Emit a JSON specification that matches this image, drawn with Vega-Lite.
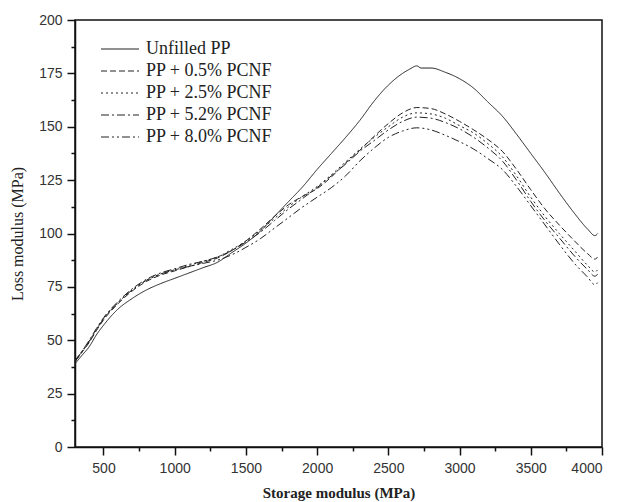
{
  "$schema": "https://vega.github.io/schema/vega-lite/v6.json",
  "width": 527,
  "height": 427,
  "autosize": {"type": "none"},
  "padding": {"left": 75, "top": 20, "right": 16, "bottom": 55},
  "config": {
    "font": "Liberation Sans",
    "view": {"stroke": "#111", "strokeWidth": 1.5},
    "axis": {
      "grid": false,
      "domainColor": "#111",
      "domainWidth": 1.5,
      "tickColor": "#111",
      "tickWidth": 1.5,
      "labelFont": "Liberation Sans",
      "labelFontSize": 14,
      "labelColor": "#333",
      "titleFont": "Liberation Serif",
      "titleFontSize": 16,
      "titleFontWeight": "normal",
      "titleColor": "#222"
    }
  },
  "data": {
    "values": [
      {"x": 300, "u": 39, "a": 40, "b": 40, "c": 40.5, "d": 40},
      {"x": 350, "u": 43, "a": 44.5, "b": 45, "c": 45, "d": 44.5},
      {"x": 400, "u": 47, "a": 49, "b": 49.5, "c": 50, "d": 49.5},
      {"x": 450, "u": 52.5, "a": 54.5, "b": 55, "c": 55.5, "d": 55},
      {"x": 500, "u": 57, "a": 59.5, "b": 60, "c": 60.5, "d": 60},
      {"x": 600, "u": 64.5, "a": 67, "b": 67.5, "c": 68, "d": 67.5},
      {"x": 700, "u": 69.5, "a": 73, "b": 73.5, "c": 74, "d": 73.5},
      {"x": 800, "u": 73.5, "a": 77.5, "b": 78, "c": 78.5, "d": 78},
      {"x": 900, "u": 76.5, "a": 80.5, "b": 81, "c": 81.5, "d": 81},
      {"x": 1000, "u": 79, "a": 82.5, "b": 83, "c": 83.5, "d": 83},
      {"x": 1100, "u": 81.5, "a": 84.5, "b": 85, "c": 85.5, "d": 84.5},
      {"x": 1200, "u": 84, "a": 86.5, "b": 87, "c": 87, "d": 86},
      {"x": 1300, "u": 86.5, "a": 88.5, "b": 89, "c": 89, "d": 87.5},
      {"x": 1400, "u": 91, "a": 92, "b": 92.5, "c": 92, "d": 90},
      {"x": 1500, "u": 95.5, "a": 96.5, "b": 96.5, "c": 96, "d": 93.5},
      {"x": 1600, "u": 101, "a": 102, "b": 101.5, "c": 100.5, "d": 97.5},
      {"x": 1700, "u": 108, "a": 108, "b": 107, "c": 106, "d": 102.5},
      {"x": 1800, "u": 115, "a": 113.5, "b": 112.5, "c": 111.5, "d": 107.5},
      {"x": 1900, "u": 122, "a": 117.5, "b": 117.5, "c": 116.5, "d": 112.5},
      {"x": 2000, "u": 130, "a": 121, "b": 122, "c": 121.5, "d": 117},
      {"x": 2100, "u": 137.5, "a": 126.5, "b": 127.5, "c": 127, "d": 121.5},
      {"x": 2200, "u": 145, "a": 133, "b": 133.5, "c": 132.5, "d": 127},
      {"x": 2300, "u": 153, "a": 139, "b": 139.5, "c": 138.5, "d": 134},
      {"x": 2400, "u": 162, "a": 145.5, "b": 145, "c": 143.5, "d": 140},
      {"x": 2500, "u": 169.5, "a": 151.5, "b": 150, "c": 148.5, "d": 145},
      {"x": 2600, "u": 175, "a": 156.5, "b": 154.5, "c": 152.5, "d": 148},
      {"x": 2650, "u": 177, "a": null, "b": null, "c": null, "d": null},
      {"x": 2700, "u": 178.5, "a": 159, "b": 156.5, "c": 154.5, "d": 149.5},
      {"x": 2730, "u": 177.5, "a": null, "b": null, "c": null, "d": null},
      {"x": 2800, "u": 177.5, "a": 158.5, "b": 156, "c": 154, "d": 148.5},
      {"x": 2900, "u": 175.5, "a": 156, "b": 154, "c": 152, "d": 146},
      {"x": 3000, "u": 172.5, "a": 152.5, "b": 150.5, "c": 149, "d": 143},
      {"x": 3100, "u": 168, "a": 148.5, "b": 147, "c": 145, "d": 139.5},
      {"x": 3200, "u": 161.5, "a": 144, "b": 142, "c": 140, "d": 135},
      {"x": 3300, "u": 155, "a": 138.5, "b": 136, "c": 134, "d": 130},
      {"x": 3400, "u": 146.5, "a": 130, "b": 127, "c": 125, "d": 122},
      {"x": 3500, "u": 137.5, "a": 120.5, "b": 117, "c": 115, "d": 113},
      {"x": 3600, "u": 128.5, "a": 111.5, "b": 108, "c": 106, "d": 104},
      {"x": 3700, "u": 119, "a": 104, "b": 100, "c": 98, "d": 95},
      {"x": 3800, "u": 110, "a": 97, "b": 92.5, "c": 90, "d": 86.5},
      {"x": 3900, "u": 102, "a": 90.5, "b": 85, "c": 83, "d": 79.5},
      {"x": 3950, "u": 99, "a": 88, "b": 82, "c": 80, "d": 76},
      {"x": 3970, "u": 100, "a": 89, "b": 83, "c": 81, "d": 77}
    ]
  },
  "transform": [
    {"fold": ["u", "a", "b", "c", "d"], "as": ["series", "y"]},
    {"filter": "datum.y != null"}
  ],
  "mark": {"type": "line", "strokeWidth": 1, "color": "#222", "interpolate": "monotone"},
  "encoding": {
    "x": {
      "field": "x", "type": "quantitative",
      "scale": {"domain": [300, 4000], "nice": false, "zero": false},
      "axis": {
        "values": [500, 750, 1000, 1250, 1500, 1750, 2000, 2250, 2500, 2750, 3000, 3250, 3500, 3750, 4000],
        "format": "d",
        "labelExpr": "datum.value % 500 == 0 ? datum.label : ''",
        "tickSize": {"condition": {"test": "datum.value % 500 == 0", "value": 8}, "value": 4},
        "labelPadding": 6,
        "titlePadding": 10,
        "titleFontSize": 15,
        "titleFontWeight": "bold",
        "title": "Storage modulus (MPa)"
      }
    },
    "y": {
      "field": "y", "type": "quantitative",
      "scale": {"domain": [0, 200], "nice": false},
      "axis": {
        "values": [0, 12.5, 25, 37.5, 50, 62.5, 75, 87.5, 100, 112.5, 125, 137.5, 150, 162.5, 175, 187.5, 200],
        "labelExpr": "datum.value % 25 == 0 ? datum.label : ''",
        "tickSize": {"condition": {"test": "datum.value % 25 == 0", "value": 8}, "value": 4},
        "labelPadding": 5,
        "titlePadding": 13,
        "title": "Loss modulus (MPa)"
      }
    },
    "strokeDash": {
      "field": "series", "type": "nominal",
      "scale": {
        "domain": ["u", "a", "b", "c", "d"],
        "range": [[1, 0], [6, 3], [2, 3], [8, 3, 2, 3], [8, 3, 2, 3, 2, 3]]
      },
      "legend": {
        "orient": "none",
        "legendX": 35,
        "legendY": 19,
        "title": null,
        "symbolType": "M-2,0H2",
        "symbolSize": 361,
        "symbolStrokeWidth": 1,
        "symbolStrokeColor": "#222",
        "labelFont": "Liberation Serif",
        "labelFontSize": 18,
        "labelColor": "#222",
        "labelOffset": 16,
        "rowPadding": 3,
        "padding": 0,
        "labelExpr": "{'u': 'Unfilled PP', 'a': 'PP + 0.5% PCNF', 'b': 'PP + 2.5% PCNF', 'c': 'PP + 5.2% PCNF', 'd': 'PP + 8.0% PCNF'}[datum.label]"
      }
    }
  }
}
